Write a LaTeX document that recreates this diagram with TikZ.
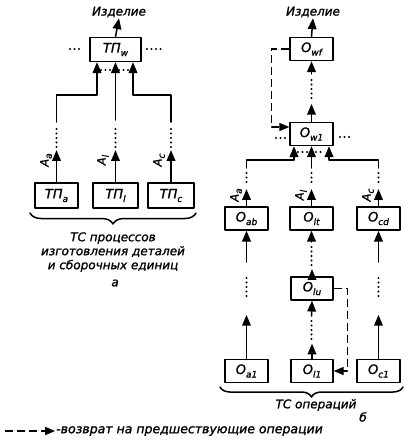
\documentclass[tikz,border=0pt]{standalone}
\usepackage{fontspec}
\setmainfont[ItalicFeatures={FakeBold=1.3}]{DejaVu Sans}
\usetikzlibrary{arrows}
\usetikzlibrary{calc}
\usetikzlibrary{decorations.pathreplacing}

\newcommand{\idx}[2]{#1\raisebox{-0.5ex}{\small #2}}

\begin{document}
\begin{tikzpicture}[line cap=round,line join=round,>=triangle 45,x=1pt,y=-1pt,
    box/.style={draw,line width=1.6pt,minimum width=43pt,minimum height=23pt,inner sep=0pt,font=\itshape\fontsize{13}{15}\selectfont},
    ln/.style={line width=1.5pt},
    dts/.style={line width=2.3pt,line cap=round,dash pattern=on 0pt off 4.5pt},
    rtn/.style={line width=1.3pt,line cap=butt,dash pattern=on 8pt off 4pt},
    txt/.style={font=\itshape\fontsize{12}{14}\selectfont,inner sep=1pt},
    lab/.style={font=\itshape\fontsize{11.5}{13}\selectfont,rotate=90,inner sep=1pt}]
        \useasboundingbox (0,0) rectangle (413,442);
        % ---- a: TP of parts and assembly units
        \node[txt] (izdA) at (119,12) {Изделие};
        \node[box,minimum width=51pt,minimum height=24pt] (tpw) at (115.5,49.5) {\idx{ТП}{w}};
        \draw[ln,->] (tpw.north) -- (izdA.south);
        \draw[dts] (70,49) -- (83,49);
        \draw[dts] (147,49) -- (161,49);
        \node[box,minimum height=25pt] (tpa) at (56.5,195.5) {\idx{ТП}{a}};
        \node[box,minimum width=45pt,minimum height=25pt] (tpl) at (115.5,195.5) {\idx{ТП}{l}};
        \node[box,minimum width=46pt,minimum height=25pt] (tpc) at (171,195.5) {\idx{ТП}{c}};
        \coordinate (ta) at (56.5,122);
        \coordinate (tl) at (115.5,120);
        \coordinate (tc) at (171,122);
        \draw[ln,->] (ta) -- (56.5,95) -| ([xshift=-18.5pt]tpw.south);
        \draw[ln,->] (tl) -- (tpw.south);
        \draw[ln,->] (tc) -- (171,95) -| ([xshift=17.5pt]tpw.south);
        \draw[dts] (101,70) -- (130,70);
        \draw[dts] (56.5,129) -- (56.5,148);
        \draw[dts] (115.5,129) -- (115.5,148);
        \draw[dts] (171,129) -- (171,148);
        \draw[ln,->] (tpa.north) -- ++(0,-32);
        \draw[ln,->] (tpl.north) -- ++(0,-32);
        \draw[ln,->] (tpc.north) -- ++(0,-32);
        \node[lab] (aA) at (46,160) {\idx{A}{a}};
        \node[lab] (lA) at (103,160) {\idx{A}{l}};
        \node[lab] (cA) at (159,160) {\idx{A}{c}};
        \draw[ln,decorate,decoration={brace,amplitude=11pt}] (196,213) -- (30,213);
        \node[txt,align=center] (capA) at (113,252) {ТС процессов\\изготовления деталей\\и сборочных единиц};
        \node[txt] (letA) at (115,283) {а};
        % ---- b: TP of operations
        \node[txt] (izdB) at (313,12) {Изделие};
        \node[box] (owf) at (311.5,49) {\idx{O}{wf}};
        \node[box] (ow1) at (311.5,134) {\idx{O}{w1}};
        \draw[ln,->] (owf.north) -- (izdB.south);
        \draw[rtn,->] (owf.west) -- ++(-18,0) |- ([yshift=7pt]ow1.west);
        \draw[ln,->] (ow1.north) -- (311.5,104);
        \draw[dts] (311.5,98) -- (311.5,78);
        \draw[ln,->] (311.5,74) -- (owf.south);
        \draw[dts] (276,138) -- (287,138);
        \draw[dts] (340,137) -- (352,137);
        \node[box] (oab) at (246.5,218.5) {\idx{O}{ab}};
        \node[box] (olt) at (311.5,218.5) {\idx{O}{lt}};
        \node[box] (ocd) at (378.5,218.5) {\idx{O}{cd}};
        \node[box,minimum width=42pt] (olu) at (312,288.5) {\idx{O}{lu}};
        \node[box] (oa1) at (246.5,371) {\idx{O}{a1}};
        \node[box,minimum width=42pt] (ol1) at (312,371) {\idx{O}{l1}};
        \node[box] (oc1) at (378.5,371) {\idx{O}{c1}};
        \coordinate (ra) at (246.5,168);
        \coordinate (rl) at (311.5,168);
        \coordinate (rc) at (378.5,168);
        \draw[ln,->] (ra) -- (246.5,160) -| ([xshift=-17.5pt]ow1.south);
        \draw[ln,->] (rl) -- (ow1.south);
        \draw[ln,->] (rc) -- (378.5,160) -| ([xshift=17.5pt]ow1.south);
        \draw[dts] (298,152) -- (325,152);
        \draw[dts] (246.5,173) -- (246.5,186);
        \draw[dts] (311.5,173) -- (311.5,186);
        \draw[dts] (378.5,173) -- (378.5,186);
        \draw[ln,->] (oab.north) -- ++(0,-17);
        \draw[ln,->] (olt.north) -- ++(0,-17);
        \draw[ln,->] (ocd.north) -- ++(0,-17);
        \node[lab] (aB) at (236,195) {\idx{A}{a}};
        \node[lab] (lB) at (301,195) {\idx{A}{l}};
        \node[lab] (cB) at (368,195) {\idx{A}{c}};
        % left and right columns
        \draw[ln,->] (246.5,262) -- (oab.south);
        \draw[dts] (246.5,278) -- (246.5,300);
        \draw[ln,->] (oa1.north) -- (246.5,315);
        \draw[ln,->] (378.5,262) -- (ocd.south);
        \draw[dts] (378.5,278) -- (378.5,300);
        \draw[ln,->] (oc1.north) -- (378.5,315);
        % middle column with return
        \draw[ln,->] (olu.north) -- ++(0,-7);
        \draw[dts] (311.5,265) -- (311.5,244);
        \draw[ln,->] (311.5,242) -- (olt.south);
        \draw[ln,->] (311.5,316) -- (olu.south);
        \draw[dts] (311.5,321) -- (311.5,340);
        \draw[ln,->] (ol1.north) -- ++(0,-15);
        \draw[rtn,->] (olu.east) -- ++(14,0) |- (ol1.east);
        \draw[ln,decorate,decoration={brace,amplitude=10pt}] (403,387) -- (220,387);
        \node[txt] (capB) at (316,405) {ТС операций};
        \node[txt] (letB) at (363,417) {б};
        % ---- legend
        \coordinate (lg0) at (5,431);
        \coordinate (lg1) at (55,431);
        \draw[rtn,->] (lg0) -- (lg1);
        \node[txt,anchor=west,font=\itshape\fontsize{12.5}{14}\selectfont] (lgt) at (lg1) {-возврат на предшествующие операции};
\end{tikzpicture}
\end{document}
